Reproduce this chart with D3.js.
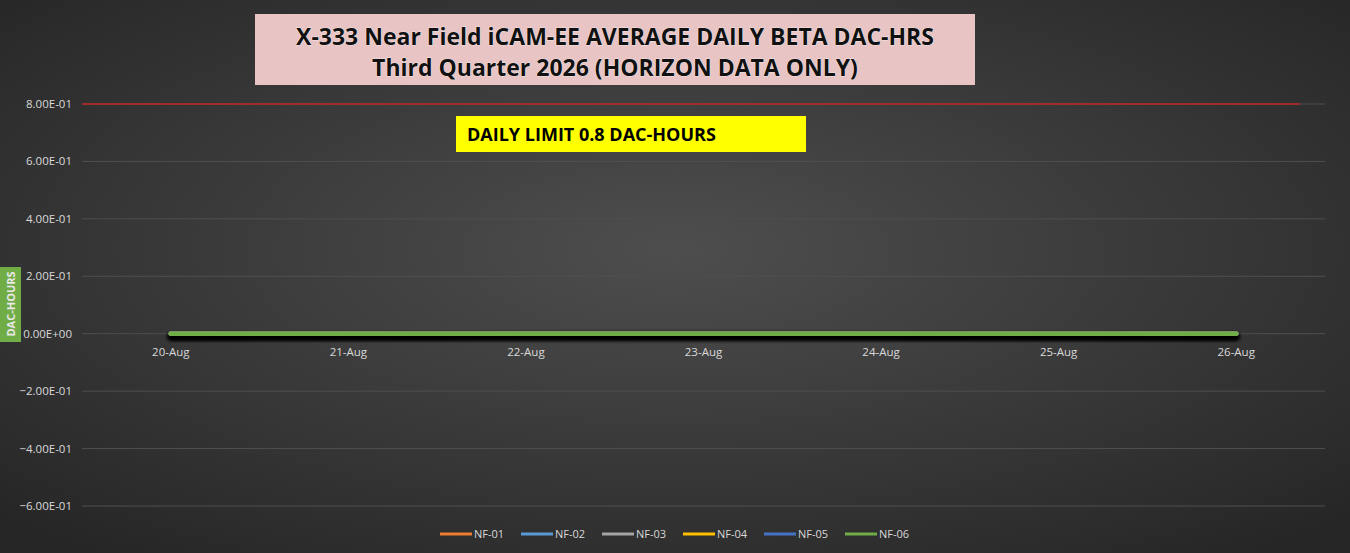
<!DOCTYPE html><html><head><meta charset="utf-8">
<script src="https://cdn.jsdelivr.net/npm/d3@7"></script>
<style>body{margin:0;background:#333}</style></head><body>
<svg id="c" width="1350" height="553"></svg>
<script>
const categories=["20-Aug","21-Aug","22-Aug","23-Aug","24-Aug","25-Aug","26-Aug"];
const seriesNames=["NF-01","NF-02","NF-03","NF-04","NF-05","NF-06"];
const seriesColors=["#ED7D31","#5B9BD5","#A5A5A5","#FFC000","#4472C4","#70AD47"];
const seriesValues=[[0,0,0,0,0,0,0],[0,0,0,0,0,0,0],[0,0,0,0,0,0,0],[0,0,0,0,0,0,0],[0,0,0,0,0,0,0],[0,0,0,0,0,0,0]];
const yTicks=[0.8,0.6,0.4,0.2,0,-0.2,-0.4,-0.6];
const limit=0.8;
const svg=d3.select("#c");
const defs=svg.append("defs");
const g=defs.append("radialGradient").attr("id","bg").attr("cx","50%").attr("cy","45%").attr("r","70%");
g.append("stop").attr("offset","0%").attr("stop-color","#4e4e4e");
g.append("stop").attr("offset","100%").attr("stop-color","#262626");
const f=defs.append("filter").attr("id","sh").attr("filterUnits","userSpaceOnUse").attr("x",0).attr("y",0).attr("width",1350).attr("height",553);
f.append("feDropShadow").attr("dx",0).attr("dy",3).attr("stdDeviation",2).attr("flood-color","#000").attr("flood-opacity",0.8);
svg.append("rect").attr("width",1350).attr("height",553).attr("fill","url(#bg)");
const L=82,R=1325;
const x=d3.scaleBand().domain(categories).range([L,R]);
const y=d3.scaleLinear().domain([-0.6,0.8]).range([506,104]);
svg.append("g").selectAll("line").data(yTicks).join("line").attr("x1",L).attr("x2",R)
 .attr("y1",d=>y(d)).attr("y2",d=>y(d)).attr("stroke","#4f4f4f").attr("stroke-width",1);
svg.append("g").selectAll("text").data(yTicks).join("text").attr("x",72).attr("y",d=>y(d)+4)
 .attr("text-anchor","end").attr("fill","#d9d9d9").attr("font-family","Open Sans").attr("font-size",11.5)
 .text(d=>d3.format(".2e")(d).replace("e","E").replace(/E([+-])(\d)$/,"E$10$2").toUpperCase());
svg.append("g").selectAll("text").data(categories).join("text").attr("x",d=>x(d)+x.bandwidth()/2).attr("y",356)
 .attr("text-anchor","middle").attr("fill","#d9d9d9").attr("font-family","Open Sans").attr("font-size",11.5).text(d=>d);
svg.append("line").attr("x1",L).attr("x2",1300).attr("y1",y(limit)).attr("y2",y(limit)).attr("stroke","#c0262a").attr("stroke-width",1.5);
const line=d3.line().x((d,i)=>x(categories[i])+x.bandwidth()/2).y(d=>y(d));
seriesValues.forEach((s,i)=>svg.append("path").datum(s).attr("d",line).attr("fill","none")
 .attr("stroke",seriesColors[i]).attr("stroke-width",4.5).attr("stroke-linecap","round").attr("filter","url(#sh)"));
svg.append("rect").attr("x",255).attr("y",14).attr("width",720).attr("height",71).attr("fill","#e8c4c4");
svg.append("text").attr("x",615).attr("y",45).attr("text-anchor","middle").attr("font-family","Open Sans").attr("font-weight","bold").attr("font-size",23).attr("fill","#111").attr("stroke","#fff").attr("stroke-width",0.6).attr("paint-order","stroke").text("X-333 Near Field iCAM-EE AVERAGE DAILY BETA DAC-HRS");
svg.append("text").attr("x",615).attr("y",76).attr("text-anchor","middle").attr("font-family","Open Sans").attr("font-weight","bold").attr("font-size",23).attr("fill","#111").attr("stroke","#fff").attr("stroke-width",0.6).attr("paint-order","stroke").text("Third Quarter 2026 (HORIZON DATA ONLY)");
svg.append("rect").attr("x",456).attr("y",116).attr("width",350).attr("height",36).attr("fill","#ffff00");
svg.append("text").attr("x",467).attr("y",141).attr("font-family","Open Sans").attr("font-weight","bold").attr("font-size",18).attr("fill","#000").text("DAILY LIMIT 0.8 DAC-HOURS");
svg.append("rect").attr("x",0).attr("y",267).attr("width",21).attr("height",75).attr("fill","#70AD47");
svg.append("text").attr("transform","translate(15,304) rotate(-90)").attr("text-anchor","middle").attr("font-family","Open Sans").attr("font-weight","bold").attr("font-size",11).attr("fill","#e8e8e8").text("DAC-HOURS");
const lg=svg.append("g").selectAll("g").data(seriesNames).join("g").attr("transform",(d,i)=>`translate(${440+i*81},534)`);
lg.append("line").attr("x1",0).attr("x2",32).attr("stroke",(d,i)=>seriesColors[i]).attr("stroke-width",3);
lg.append("text").attr("x",34).attr("y",4).attr("fill","#d9d9d9").attr("font-family","Open Sans").attr("font-size",11).text(d=>d);
</script></body></html>
